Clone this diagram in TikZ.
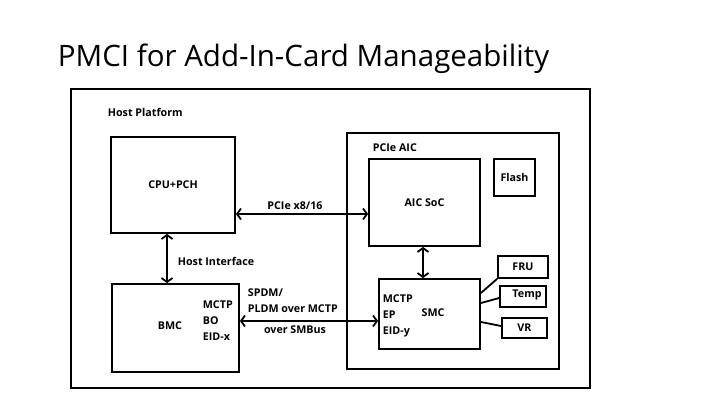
\documentclass[tikz,border=0pt]{standalone}
\usepackage{fontspec}
\setmainfont{Open Sans}
\usetikzlibrary{positioning,arrows.meta}

\begin{document}
\begin{tikzpicture}[x=1pt,y=-1pt,line width=1.8pt,
  blk/.style={draw,rectangle,inner sep=0pt},
  lbl/.style={font=\fontsize{10.7}{16}\selectfont\bfseries,inner sep=0pt},
  link/.style={{Straight Barb[length=4pt,width=11pt]}-{Straight Barb[length=4pt,width=11pt]}}]
  \useasboundingbox (0,0) rectangle (720,405);
  \node[anchor=base west,font=\fontsize{29.5}{34}\selectfont,inner sep=0pt] (title) at (57,66) {PMCI for Add-In-Card Manageability};
  % host platform
  \node[blk,minimum width=519pt,minimum height=299pt] (host) at (330.5,238.5) {};
  \node[lbl,anchor=west] (hostlbl) at (107,112) {Host Platform};
  \node[blk,minimum width=124pt,minimum height=96pt] (cpu) at (173,185) {};
  \node[lbl] (cpulbl) at (cpu) {CPU+PCH};
  \node[blk,minimum width=127pt,minimum height=88pt] (bmc) at (175.5,328) {};
  \node[lbl] (bmclbl) at (170,326) {BMC};
  \node[lbl,anchor=west,align=left] (bmcep) at (202,321) {MCTP\\BO\\EID-x};
  % add-in card
  \node[blk,minimum width=212pt,minimum height=236pt] (aic) at (453,251) {};
  \node[lbl,anchor=west] (aiclbl) at (372,148) {PCIe AIC};
  \node[blk,minimum width=111pt,minimum height=87pt] (soc) at (424.5,202.5) {};
  \node[lbl] (soclbl) at (soc) {AIC SoC};
  \node[blk,minimum width=41pt,minimum height=37pt] (flash) at (514.5,177.5) {};
  \node[lbl] (flashlbl) at (flash) {Flash};
  \node[blk,minimum width=101pt,minimum height=70pt] (smc) at (429.5,314) {};
  \node[lbl,anchor=west,align=left] (smcep) at (382,316) {MCTP\\EP\\EID-y};
  \node[lbl] (smclbl) at (433,313) {SMC};
  \node[blk,minimum width=50pt,minimum height=22pt] (fru) at (523,267) {};
  \node[lbl] (frulbl) at (fru) {FRU};
  \node[blk,minimum width=46pt,minimum height=21pt] (temp) at (523,296.5) {};
  \node[lbl] (templbl) at (527,295) {Temp};
  \node[blk,minimum width=45pt,minimum height=20pt] (vr) at (524.5,328) {};
  \node[lbl] (vrlbl) at (vr) {VR};
  % links
  \draw[link] (cpu.east |- 0,214) -- (soc.west |- 0,214);
  \node[lbl] (pcielbl) at (295,206) {PCIe x8/16};
  \draw[link] (cpu.south -| 167,0) -- (bmc.north -| 167,0);
  \node[lbl,anchor=west] (hilbl) at (177,261) {Host Interface};
  \draw[link] (soc.south -| 423,0) -- (smc.north -| 423,0);
  \draw[link] (bmc.east |- 0,321) -- (smc.west |- 0,321);
  \node[lbl,anchor=west,align=left] (spdmlbl) at (247,301) {SPDM/\\PLDM over MCTP};
  \node[lbl] (smblbl) at (295,330) {over SMBus};
  \draw (smc.east |- 0,293) -- (fru.south west);
  \draw (smc.east |- 0,303) -- (temp.west |- 0,298);
  \draw (smc.east |- 0,322) -- (vr.west |- 0,326);
\end{tikzpicture}
\end{document}
